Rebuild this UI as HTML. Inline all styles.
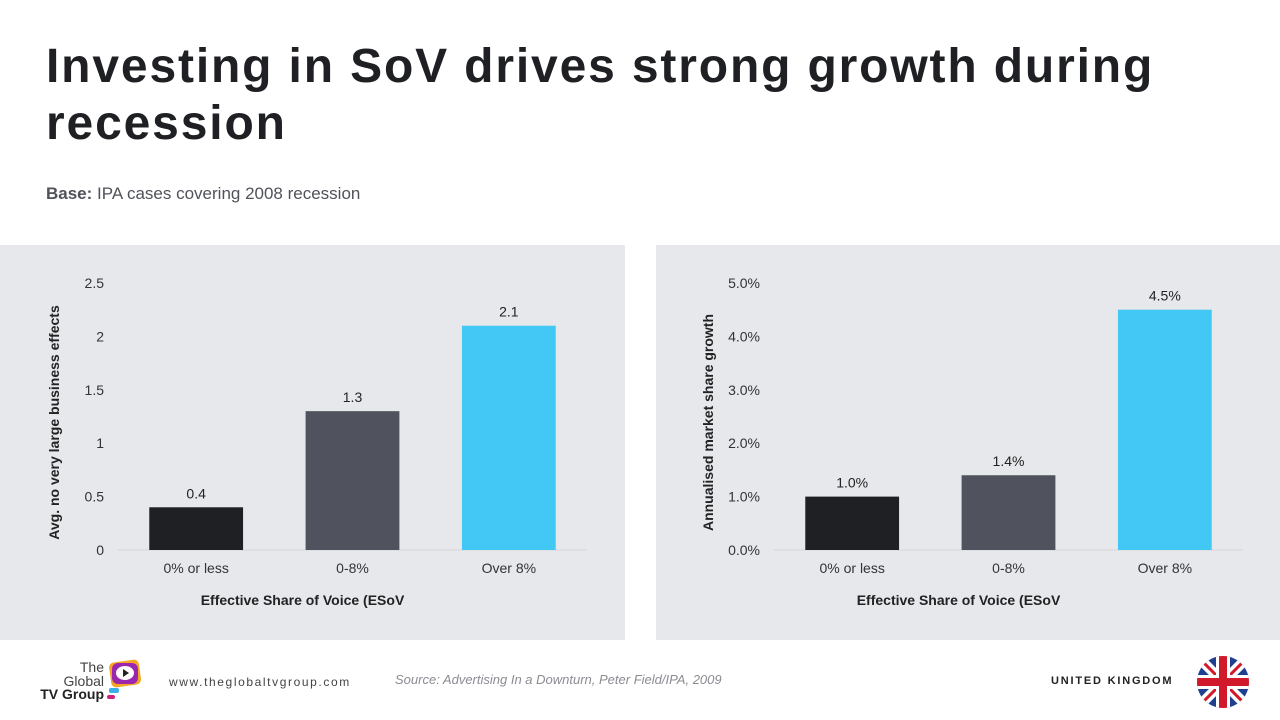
<!DOCTYPE html>
<html><head><meta charset="utf-8"><style>
body{margin:0;width:1280px;height:720px;background:#fff;font-family:"Liberation Sans",sans-serif;position:relative;overflow:hidden}
.abs{position:absolute}
h1{position:absolute;left:46px;top:38px;margin:0;font-size:48px;line-height:57px;font-weight:bold;color:#1f2024;letter-spacing:1.85px;width:1220px}
</style></head><body>
<h1>Investing in SoV drives strong growth during recession</h1>
<div class="abs" style="left:46px;top:184px;font-size:17px;color:#50525a"><b>Base:</b> IPA cases covering 2008 recession</div>
<div class="abs" style="left:0;top:245px;width:625px;height:395px;background:#e7e8ec"></div>
<div class="abs" style="left:656px;top:245px;width:624px;height:395px;background:#e7e8ec"></div>
<svg class="abs" style="left:0;top:0" width="1280" height="720" id="charts"></svg>
<div class="abs" style="left:40px;top:660px;width:110px;height:45px">
 <div style="position:absolute;left:0;width:64px;top:1px;font-size:14px;line-height:13.5px;color:#444;text-align:right">The<br>Global<br><b style="color:#222;white-space:nowrap">TV Group</b></div>
 <svg style="position:absolute;left:67px;top:-2px" width="36" height="44"><rect x="3" y="3" width="30" height="25" rx="5" fill="#f5a623" transform="rotate(-8 18 15)"/><rect x="5" y="5" width="26" height="21" rx="6" fill="#9b27af"/><ellipse cx="18" cy="15" rx="9" ry="7" fill="#fff"/><polygon points="16,11 22,15 16,19" fill="#222"/><rect x="2" y="30" width="10" height="5" rx="2" fill="#3ab0e8"/><rect x="0" y="37" width="8" height="4" rx="2" fill="#d0207a"/></svg>
</div>
<div class="abs" style="left:169px;top:675px;font-size:12px;letter-spacing:1.6px;color:#444">www.theglobaltvgroup.com</div>
<div class="abs" style="left:395px;top:672px;font-size:13px;font-style:italic;color:#8a8c92">Source: Advertising In a Downturn, Peter Field/IPA, 2009</div>
<div class="abs" style="left:1051px;top:675px;font-size:11px;font-weight:bold;letter-spacing:1.8px;color:#222">UNITED KINGDOM</div>
<svg class="abs" style="left:1196px;top:655px" width="54" height="54"><defs><clipPath id="c"><circle cx="27" cy="27" r="26"/></clipPath></defs><g clip-path="url(#c)"><rect width="54" height="54" fill="#1f3f8f"/><path d="M0 0L54 54M54 0L0 54" stroke="#fff" stroke-width="10"/><path d="M0 0L54 54M54 0L0 54" stroke="#d0192b" stroke-width="3"/><path d="M27 0V54M0 27H54" stroke="#fff" stroke-width="14"/><path d="M27 0V54M0 27H54" stroke="#d0192b" stroke-width="8"/></g></svg>
<script>
const categories=["0% or less","0-8%","Over 8%"];
const leftValues=[0.4,1.3,2.1];
const leftTicks=[0,0.5,1,1.5,2,2.5];
const leftLabels=["0.4","1.3","2.1"];
const rightValues=[1.0,1.4,4.5];
const rightTicks=[0,1,2,3,4,5];
const rightLabels=["1.0%","1.4%","4.5%"];
const colors=["#1f2024","#50535e","#43c8f5"];
const svg=document.getElementById('charts');
const NS="http://www.w3.org/2000/svg";
function mk(t,a,txt){const e=document.createElementNS(NS,t);for(const k in a)e.setAttribute(k,a[k]);if(txt!==undefined)e.textContent=txt;svg.appendChild(e);return e;}
function chart(name,x0,x1,vals,ticks,labels,fmt,ytitle,titleX){
 const y0=550,y1=283,max=ticks[ticks.length-1];
 const y=v=>y0-(v/max)*(y0-y1);
 const band=(x1-x0)/categories.length,bw=band*0.6;
 ticks.forEach(t=>{const e=mk('text',{x:x0-14,y:y(t)+5,'text-anchor':'end','font-size':14,fill:'#333'},fmt(t));
  
  });
 const b=mk('line',{x1:x0,x2:x1,y1:y0,y2:y0,stroke:'#d4d5da','stroke-width':1});
 
 
 vals.forEach((v,i)=>{const cx=x0+band*(i+0.5);
  const r=mk('rect',{x:cx-bw/2,y:y(v),width:bw,height:y0-y(v),fill:colors[i]});
  
  
  const l=mk('text',{x:cx,y:y(v)-9,'text-anchor':'middle','font-size':14,fill:'#222'},labels[i]);
  
  
  const c=mk('text',{x:cx,y:573,'text-anchor':'middle','font-size':14,fill:'#333'},categories[i]);
  
  });
 const xt=mk('text',{x:(x0+x1)/2-50,y:605,'text-anchor':'middle','font-size':14,'font-weight':'bold',fill:'#222'},'Effective Share of Voice (ESoV');
 
 
 const yt=mk('text',{x:0,y:0,'text-anchor':'middle','font-size':14,'font-weight':'bold',fill:'#222',transform:`translate(${titleX},${(y0+y1)/2+6}) rotate(-90)`},ytitle);
 
 
}
chart('left',118,587,leftValues,leftTicks,leftLabels,t=>String(t),'Avg. no very large business effects',59);
chart('right',774,1243,rightValues,rightTicks,rightLabels,t=>t.toFixed(1)+'%','Annualised market share growth',713);
</script>
</body></html>
